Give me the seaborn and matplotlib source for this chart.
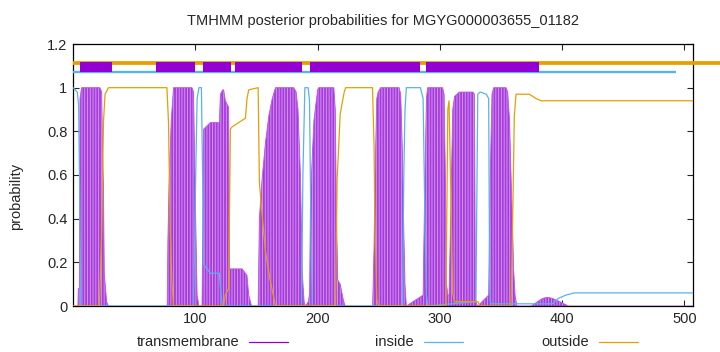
import matplotlib
matplotlib.use("Agg")
import matplotlib.pyplot as plt
import seaborn as sns
import pandas as pd
from matplotlib.lines import Line2D

# ---------------- data ----------------
title = "TMHMM posterior probabilities for MGYG000003655_01182"
seq_len = 507

tm_pos = [0, 4, 4.3, 5.2, 5.7, 7, 22, 23.5, 24.2, 24.9, 25.6, 27.5, 29,
          77, 77.6, 78.5, 80.3, 82.2, 97.3, 98.6, 100, 101.5, 103,
          105.5, 106.2, 106.8, 112.3, 119.7, 120.5, 122.5, 123.2, 124.6, 127.3, 128.1, 129, 138.3, 142.3, 143.7, 146,
          151.4, 152.4, 154.6, 157.4, 160.1, 162.9, 165.6, 180.6, 182.5, 184, 186, 187.5, 189, 190,
          192.5, 193.5, 194.2, 197, 200, 201, 213.3, 214.5, 215.5, 216.5, 218.5, 221, 222.5,
          245, 246.2, 246.8, 248.4, 249.5, 251.6, 266.7, 268, 269.4, 270.5, 271.5, 272.6,
          286.3, 287.5, 289, 290, 302.2, 303.5, 304.5, 305.5, 306.5, 307.5,
          309, 310.5, 312, 316, 327, 328.3, 329.1, 330, 331,
          339.9, 341.2, 342.6, 344, 354.1, 355.5, 357, 358.2, 359.3, 360.3, 361.5, 363,
          374.6, 380, 384, 388, 392, 398, 403.3, 405, 507]
tm_val = [0, 0, 0.08, 0.08, 0.95, 1.0, 1.0, 0.98, 0.7, 0.55, 0.15, 0.02, 0,
          0, 0.3, 0.55, 0.85, 1.0, 1.0, 0.98, 0.5, 0.05, 0,
          0, 0.4, 0.81, 0.84, 0.84, 0.97, 0.99, 0.99, 0.94, 0.91, 0.17, 0.17, 0.17, 0.14, 0.05, 0,
          0, 0.4, 0.58, 0.75, 0.87, 0.95, 1.0, 1.0, 0.98, 0.9, 0.6, 0.15, 0.02, 0,
          0.02, 0.06, 0.5, 0.85, 0.99, 1.0, 1.0, 0.9, 0.4, 0.12, 0.1, 0.03, 0,
          0, 0.27, 0.55, 0.95, 0.98, 1.0, 1.0, 0.97, 0.7, 0.35, 0.1, 0,
          0.05, 0.5, 0.95, 1.0, 1.0, 0.97, 0.6, 0.1, 0.05, 0.05,
          0.45, 0.9, 0.96, 0.98, 0.98, 0.97, 0.03, 0.01, 0,
          0.05, 0.6, 0.97, 1.0, 1.0, 0.98, 0.85, 0.6, 0.4, 0.17, 0.05, 0,
          0, 0.02, 0.035, 0.04, 0.035, 0.02, 0.005, 0, 0]

inside_pos = [0, 3.5, 4.6, 5.5, 6.3, 98.6, 100, 101.5, 103, 105, 106, 106.8, 112.3, 119.7, 121, 122.4,
              186.9, 188, 189.6, 192.3, 193.4, 194.3, 195.6,
              269.4, 270.5, 271.5, 272.6, 284.1, 286.3, 287.5, 289, 290,
              329.5, 331, 333, 338, 339.9, 340.7, 341.5, 392, 397, 403, 410, 507]
inside_val = [1.0, 0.98, 0.92, 0.5, 0, 0, 0.5, 0.95, 1.0, 1.0, 0.6, 0.19, 0.15, 0.15, 0.05, 0,
              0, 0.6, 1.0, 1.0, 0.94, 0.5, 0,
              0, 0.6, 0.9, 1.0, 1.0, 0.95, 0.5, 0.05, 0,
              0.02, 0.97, 0.98, 0.97, 0.95, 0.1, 0.01, 0.01, 0.035, 0.05, 0.06, 0.06]

outside_pos = [0, 21.6, 23.5, 24.9, 26.2, 29, 76.8, 78.1, 79.5, 80.9, 82.2,
               123.2, 124.5, 127.3, 128.7, 130, 135.5, 141, 142.3, 143.7, 151.4, 152.4, 154.6, 157.4, 161.5, 165.6,
               214.7, 216, 218.5, 221.8, 223, 244.9, 246.2, 246.8, 248.4, 250,
               305, 306.5, 307.5, 309, 310.5, 312, 331, 333,
               358.2, 359.6, 360.9, 362.3, 373.2, 378.7, 382.8, 507]
outside_val = [0, 0, 0.34, 0.84, 0.97, 1.0, 1.0, 0.84, 0.34, 0.11, 0,
               0, 0.05, 0.08, 0.81, 0.82, 0.84, 0.86, 0.95, 0.99, 1.0, 0.57, 0.42, 0.25, 0.11, 0,
               0, 0.58, 0.88, 0.98, 1.0, 1.0, 0.73, 0.43, 0.03, 0,
               0, 0.9, 0.94, 0.5, 0.06, 0.02, 0.02, 0,
               0, 0.42, 0.87, 0.97, 0.97, 0.95, 0.94, 0.94]

# topology band above the plot
band_tm = [(6.0, 32.2), (68.2, 99.6), (106.4, 129.1), (132.4, 187.6), (193.8, 283.9), (288.5, 380.8)]
band_inside = (0, 493.5)
band_outside = (0, 530)

xticks = [100, 200, 300, 400, 500]
yticks = [0, 0.2, 0.4, 0.6, 0.8, 1.0, 1.2]
ytick_labels = ["0", "0.2", "0.4", "0.6", "0.8", "1", "1.2"]
legend_labels = ["transmembrane", "inside", "outside"]

# ---------------- style ----------------
C_TM = "#9400d3"
C_IN = "#56b4e9"
C_OUT = "#e69f00"

sns.set_style("ticks")
plt.rcParams['font.family'] = ['Liberation Sans', 'DejaVu Sans']
plt.rcParams['hatch.linewidth'] = 0.7
FS = 10.5

W, H = 720, 352
fig = plt.figure(figsize=(W / 100, H / 100), dpi=100)
ax = fig.add_axes([73 / W, 1 - 306 / H, 620 / W, 262 / H])

tm_df = pd.DataFrame({"pos": tm_pos, "p": tm_val})
in_df = pd.DataFrame({"pos": inside_pos, "p": inside_val})
out_df = pd.DataFrame({"pos": outside_pos, "p": outside_val})

# transmembrane probability (impulse-like striped area)
ax.fill_between(tm_df["pos"], 0, tm_df["p"], facecolor="#a93ade", edgecolor="#cf96ee",
                linewidth=0, hatch="||||||", zorder=2)
sns.lineplot(data=tm_df, x="pos", y="p", ax=ax, color="#b65ae4", lw=0.6, estimator=None, zorder=3)
sns.lineplot(data=in_df, x="pos", y="p", ax=ax, color=C_IN, lw=0.9, estimator=None, zorder=4)
sns.lineplot(data=out_df, x="pos", y="p", ax=ax, color=C_OUT, lw=0.9, estimator=None, zorder=4)

# topology band
ax.plot(band_outside, [1.112, 1.112], color=C_OUT, lw=2.7, solid_capstyle="butt", clip_on=False, zorder=5)
ax.plot(band_inside, [1.074, 1.074], color=C_IN, lw=1.7, solid_capstyle="butt", clip_on=False, zorder=5)
for a, b in band_tm:
    ax.fill_between([a, b], 1.071, 1.117, color=C_TM, lw=0, zorder=6)

ax.set_xlim(0, seq_len)
ax.set_ylim(0, 1.2)
ax.set_xticks(xticks)
ax.set_xticklabels([str(t) for t in xticks], fontsize=FS)
ax.set_yticks(yticks)
ax.set_yticklabels(ytick_labels, fontsize=FS)
ax.set_xlabel("")
ax.set_ylabel("")
ax.tick_params(direction="in", length=4, width=0.8, top=True, right=True, pad=4)
for s in ax.spines.values():
    s.set_visible(True)
    s.set_linewidth(0.9)
    s.set_color("black")

fig.text(383 / W, 1 - 21 / H, title, ha="center", va="center", fontsize=FS)
fig.text(16 / W, 1 - 196 / H, "probability", ha="center", va="center", rotation=90, fontsize=FS)

# legend (gnuplot style: text then sample line)
leg_cols = [C_TM, C_IN, C_OUT]
text_right = [239, 414, 589]
for lab, col, xr in zip(legend_labels, leg_cols, text_right):
    fig.text(xr / W, 1 - 342 / H, lab, ha="right", va="center", fontsize=FS)
    fig.add_artist(Line2D([(xr + 10) / W, (xr + 49) / W], [1 - 342 / H, 1 - 342 / H],
                          color=col, lw=0.9, transform=fig.transFigure))

fig.savefig("out.png", dpi=100)
